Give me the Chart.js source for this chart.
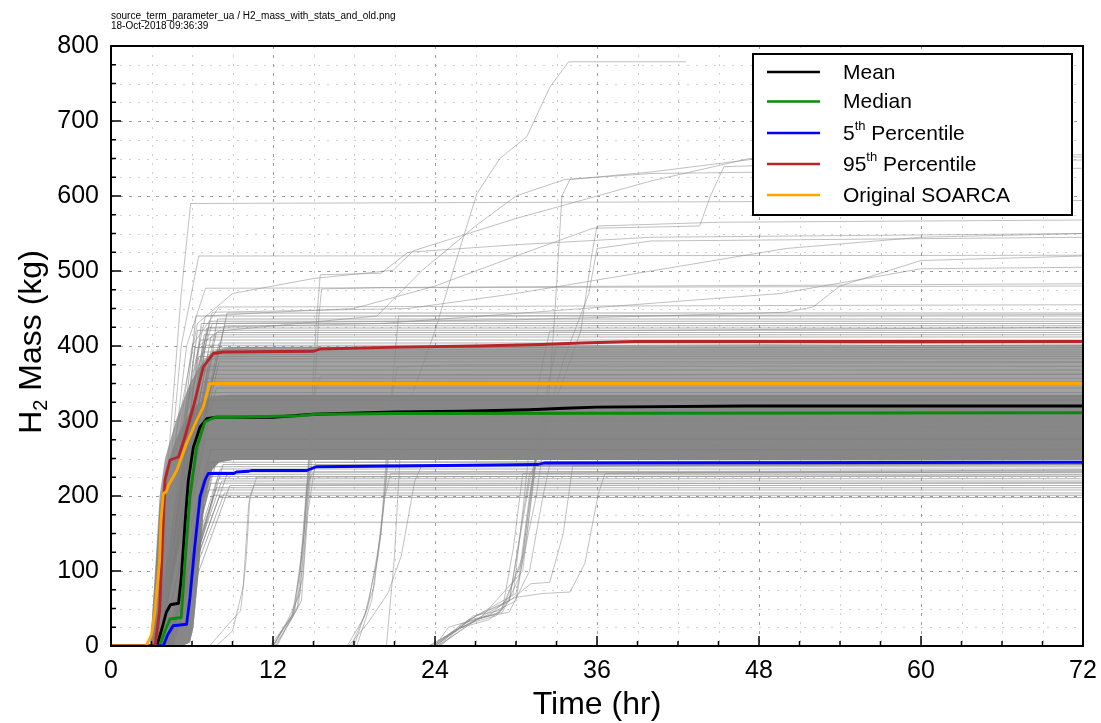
<!DOCTYPE html>
<html>
<head>
<meta charset="utf-8">
<script src="https://cdn.jsdelivr.net/npm/chart.js@4.4.0/dist/chart.umd.min.js"></script>
<style>
  html, body { margin: 0; background: #fff; }
  #wrap { width: 1101px; height: 723px; }
</style>
</head>
<body>
<div id="wrap"><canvas id="h2Chart" width="1101" height="723"></canvas></div>
<script>
// ---- data (time in hr, mass in kg) ----
const xTicks = [0, 12, 24, 36, 48, 60, 72];
const yTicks = [0, 100, 200, 300, 400, 500, 600, 700, 800];

const meanCurve = [[0,0],[3.4,0],[3.8,25],[4.1,45],[4.4,55],[5.0,57],[5.2,90],[5.36,132],[5.55,180],[5.73,221],[6.1,265],[6.6,292],[7.1,303],[7.8,305],[12,305],[15,309],[21,312],[26,313],[31,315],[33.6,317],[36,318.5],[47,320],[72,320]];
const medianCurve = [[0,0],[3.6,0],[4.0,20],[4.37,36],[5.2,38],[5.48,110],[5.85,199],[6.35,265],[6.96,299],[7.7,305],[9,305],[14,307],[15.2,309],[21,310],[72,311]];
const p5Curve = [[0,0],[3.87,0],[4.2,15],[4.6,27],[5.6,29],[5.85,65],[6.2,132],[6.6,199],[6.96,221],[7.2,230],[9.1,230],[9.3,232],[10.2,233],[10.4,234],[14.5,234],[15.2,239],[21.2,240],[31.6,242],[32.1,244],[72,245]];
const p95Curve = [[0,0],[3.26,0],[3.6,47],[3.8,132],[4.0,221],[4.37,248],[5.0,252],[5.48,279],[6.1,319],[6.84,372],[7.58,390],[8.3,392],[15,393],[15.5,396],[21.3,398.5],[27.1,400],[31.9,402],[34.8,404],[38.8,406],[72,406]];
const soarcaCurve = [[0,0],[2.6,0],[3.0,15],[3.26,47],[3.6,114],[3.7,165],[3.87,203],[4.1,206],[4.25,214],[4.87,234],[5.6,270],[6.35,301],[6.84,319],[7.1,336],[7.33,350],[72,350]];

// dense bundle of realizations (envelopes of the solid grey mass)
const bandT     = [0, 2.9, 3.26, 3.6, 4.0, 4.8, 5.3, 5.85, 6.1, 6.5, 6.9, 7.5, 8, 9, 72];
const bandLow   = [0, 0, 0, 0, 0, 0, 0, 5, 25, 100, 190, 235, 245, 248, 248];
const innerHigh = [0, 0, 90, 185, 232, 275, 295, 312, 318, 324, 328, 332, 334, 335, 335];
const outerHigh = [0, 0, 100, 200, 250, 300, 325, 350, 358, 370, 381, 392, 396, 399, 402];

// single realizations that form the visible stripes around the bundle
const coreLevel = [165,198,201,204,208,211,214,217,220,223,226,229,232,236,239,242,245,
  262,276,328,333,338,344,352,357,362,368,373,379,383,
  386,389,392,395,398,401,404,408,412,415,418,421,424,427,430,433,436,440,444];
const coreStart = [4.2,4.0,4.3,4.1,4.4,3.9,4.5,4.2,4.0,4.6,4.3,4.1,4.4,3.9,4.2,4.5,4.0,
  3.6,3.8,3.4,3.5,3.7,3.3,3.6,3.4,3.5,3.2,3.6,3.3,3.4,
  3.3,3.1,3.4,3.2,3.5,3.0,3.3,3.6,3.2,3.4,3.1,3.5,3.3,3.2,3.6,3.4,3.0,3.5,3.3];
const coreEnd = [7.0,8.0,7.6,8.4,7.2,7.8,8.8,7.4,8.2,7.9,7.1,8.6,7.5,8.1,7.7,8.3,7.3,
  7.4,7.0,6.9,7.3,6.6,7.8,6.8,7.1,7.6,6.7,7.2,8.0,6.9,
  6.5,7.2,6.8,7.6,6.2,7.0,8.0,6.6,7.4,6.9,7.8,6.4,7.1,8.4,6.7,7.3,7.9,6.3,8.6];

// late or high realizations drawn one by one
const spreadRuns = [
  [[0,0],[20.4,0],[21,120],[21.4,250],[22.2,330],[24,420],[25.5,510],[27.1,603],[28.8,650],[30.8,679],[32.5,745],[33.9,779],[42.6,779]],
  [[0,0],[3.0,0],[3.8,150],[4.6,330],[5.2,470],[5.9,590],[72,594]],
  [[0,0],[3.2,0],[4.2,200],[5.2,400],[6.5,520],[72,521]],
  [[0,0],[3.4,0],[4.5,230],[5.6,400],[7.0,477],[72,480]],
  [[0,0],[3.5,0],[4.8,250],[6.0,400],[8.0,452],[72,455]],
  [[0,0],[3.3,0],[4.8,280],[6.4,430],[9,470],[15,490],[20.9,501],[22.4,527],[30,570],[40,620],[47.3,650],[72,655]],
  [[0,0],[3.5,0],[5,250],[6.5,400],[8,420],[15,432],[19.7,440],[23,500],[27,560],[30,600],[33.6,622],[40,630],[72,637]],
  [[0,0],[3.6,0],[5.3,300],[7,440],[12,445],[18,450],[24,480],[30,520],[35.7,557],[43.6,560],[44.4,600],[45.4,639],[55,645],[72,648]],
  [[0,0],[3.8,0],[5.5,300],[7.5,445],[22,450],[30,470],[40,500],[50,530],[60,545],[72,550]],
  [[0,0],[3.7,0],[5.6,320],[7.5,430],[30,435],[50,445],[52,452],[54,480],[60,514],[72,520]],
  [[0,0],[3.6,0],[5.4,300],[7.2,425],[20,430],[35,450],[49.6,470],[60,503],[72,505]],
  [[0,0],[11.8,0],[12.6,20],[13.5,40],[14.3,150],[14.8,300],[15.2,430],[15.5,495],[20,497],[22,525],[30,535],[40,545],[72,550]],
  [[0,0],[12,0],[12.8,25],[13.6,45],[14.2,130],[14.7,230],[15.2,245],[72,248]],
  [[0,0],[12,0],[13,30],[13.9,55],[14.4,150],[14.9,250],[15.3,265],[72,268]],
  [[0,0],[12.1,0],[12.9,22],[13.8,50],[14.3,160],[14.8,280],[15.4,300],[72,302]],
  [[0,0],[12,0],[13.1,35],[14,70],[14.5,200],[15,330],[15.5,360],[72,363]],
  [[0,0],[12.2,0],[13.2,30],[14.1,60],[14.6,180],[15.1,240],[72,241]],
  [[0,0],[12,0],[12.7,20],[13.4,40],[14,100],[14.5,215],[15,232],[72,234]],
  [[0,0],[12.3,0],[13.4,40],[14.2,90],[14.8,260],[15.4,440],[15.6,476],[20,478],[72,483]],
  [[0,0],[7.3,0],[8.5,25],[9.6,47],[10,114],[10.3,200],[10.8,225],[72,228]],
  [[0,0],[7.8,0],[9.0,20],[9.8,80],[10.2,190],[10.6,215],[72,218]],
  [[0,0],[17.5,0],[18.8,40],[19.8,120],[20.3,200],[20.7,230],[72,232]],
  [[0,0],[17.8,0],[19,50],[20,150],[20.5,280],[21,380],[21.3,440],[72,442]],
  [[0,0],[18.2,0],[19.3,60],[20.1,170],[20.6,260],[21,290],[72,292]],
  [[0,0],[18,0],[19.5,80],[20.3,210],[20.8,330],[21.2,372],[25,375],[72,378]],
  [[0,0],[17.6,0],[19,30],[20.5,70],[21.5,120],[22.5,220],[23,240],[72,243]],
  [[0,0],[23.6,0],[25,15],[26.5,30],[28.5,40],[29.5,60],[30.3,150],[31,230],[31.5,240],[72,242]],
  [[0,0],[23.8,0],[25.5,20],[27,35],[29,45],[30.2,90],[31,200],[31.6,260],[72,262]],
  [[0,0],[24,0],[25.2,18],[27.5,38],[30,60],[30.8,150],[31.5,250],[32,300],[72,302]],
  [[0,0],[24.1,0],[26,30],[28,40],[29.8,70],[30.5,180],[31.2,300],[32,380],[32.5,420],[72,425]],
  [[0,0],[23.5,0],[24.5,10],[26,25],[28,35],[29,50],[29.8,130],[30.5,230],[72,235]],
  [[0,0],[24.2,0],[26.5,35],[29.5,45],[31,100],[32,200],[32.6,250],[72,252]],
  [[0,0],[24.4,0],[26.8,40],[29,48],[30.5,120],[31.4,250],[32.4,350],[33,400],[72,405]],
  [[0,0],[24,0],[25,25],[28.8,45],[30.4,110],[31.3,230],[31.9,320],[72,322]],
  [[0,0],[24,0],[27,40],[30,65],[32,70],[34,72],[35.1,110],[36.1,203],[36.6,230],[72,232]],
  [[0,0],[24.3,0],[27,35],[29.5,60],[31.1,83],[32.5,85],[33.5,150],[34.2,240],[72,245]],
  [[0,0],[24,0],[27,40],[30,70],[31.5,200],[32.3,300],[32.9,450],[33.4,600],[34,622],[40,632],[48,650],[72,652]],
  [[0,0],[24.2,0],[27.5,40],[30.5,100],[31.5,250],[33,330],[34.8,420],[35.6,520],[36,560],[45,565],[72,568]],
  [[0,0],[23.8,0],[26.5,35],[29.5,60],[31,220],[33.5,380],[35.4,470],[36,530],[40,540],[72,545]]
];

const legendItems = [
  { base: "Mean", sup: "", rest: "", color: "#000000" },
  { base: "Median", sup: "", rest: "", color: "#0a8a0a" },
  { base: "5", sup: "th", rest: " Percentile", color: "#0000ff" },
  { base: "95", sup: "th", rest: " Percentile", color: "#b82428" },
  { base: "Original SOARCA", sup: "", rest: "", color: "#ffa500" }
];

const FONT = '"Liberation Sans", Arial, Helvetica, sans-serif';
const toXY = pts => pts.map(p => ({ x: p[0], y: p[1] }));

// ---- datasets (index 0 is drawn on top) ----
const statLine = (label, pts, color) => ({
  label, data: toXY(pts), borderColor: color, borderWidth: 2.8, pointRadius: 0, fill: false
});

const datasets = [
  statLine("Original SOARCA", soarcaCurve, "#ffa500"),
  statLine("95th Percentile", p95Curve, "#b82428"),
  statLine("5th Percentile", p5Curve, "#0000ff"),
  statLine("Median", medianCurve, "#0a8a0a"),
  statLine("Mean", meanCurve, "#000000")
];

spreadRuns.forEach(run => {
  datasets.push({ data: toXY(run), borderColor: "rgba(135,135,135,0.75)", borderWidth: 0.7, pointRadius: 0, fill: false });
});

coreLevel.forEach((lvl, i) => {
  const pts = [[0, 0], [coreStart[i], 0], [coreEnd[i], lvl], [72, lvl]];
  datasets.push({ data: toXY(pts), borderColor: "rgba(125,125,125,0.6)", borderWidth: 1, pointRadius: 0, fill: false });
});

const n = datasets.length;
// inner band: n (high) -> n+1 (low); outer band: n+2 (high) -> n+3 (low)
datasets.push({ data: toXY(bandT.map((t, i) => [t, innerHigh[i]])), borderWidth: 0, pointRadius: 0, fill: { target: n + 1 }, backgroundColor: "#878787" });
datasets.push({ data: toXY(bandT.map((t, i) => [t, bandLow[i]])), borderWidth: 0, pointRadius: 0, fill: false });
datasets.push({ data: toXY(bandT.map((t, i) => [t, outerHigh[i]])), borderWidth: 0, pointRadius: 0, fill: { target: n + 3 }, backgroundColor: "#a3a3a3" });
datasets.push({ data: toXY(bandT.map((t, i) => [t, bandLow[i]])), borderWidth: 0, pointRadius: 0, fill: false });

// ---- drawing helpers ----
const gridPlugin = {
  id: "dottedGrid",
  beforeDatasetsDraw(chart) {
    const { ctx, chartArea: a, scales: { x, y } } = chart;
    ctx.save();
    ctx.lineWidth = 1;
    for (let v = 0; v <= 800; v += 25) {
      const py = Math.round(y.getPixelForValue(v)) + 0.5;
      const major = v % 100 === 0;
      ctx.strokeStyle = major ? "#9c9c9c" : "#cfcfcf";
      ctx.setLineDash(major ? [3, 6] : [2, 7]);
      ctx.beginPath(); ctx.moveTo(a.left, py); ctx.lineTo(a.right, py); ctx.stroke();
    }
    for (let t = 0; t <= 72; t += 3) {
      const px = Math.round(x.getPixelForValue(t)) + 0.5;
      const major = t % 12 === 0;
      ctx.strokeStyle = major ? "#9c9c9c" : "#cfcfcf";
      ctx.setLineDash(major ? [3, 6] : [2, 7]);
      ctx.beginPath(); ctx.moveTo(px, a.top); ctx.lineTo(px, a.bottom); ctx.stroke();
    }
    ctx.restore();
  }
};

function drawRich(ctx, parts, x, y) {
  // parts: [text, size, dy]
  let cx = x;
  parts.forEach(([txt, size, dy]) => {
    if (!txt) return;
    ctx.font = size + "px " + FONT;
    ctx.fillText(txt, cx, y + dy);
    cx += ctx.measureText(txt).width;
  });
  return cx - x;
}

const framePlugin = {
  id: "frame",
  afterDatasetsDraw(chart) {
    const { ctx, chartArea: a, scales: { x, y } } = chart;
    ctx.save();
    ctx.setLineDash([]);
    ctx.strokeStyle = "#000";
    // inward ticks on left and bottom
    ctx.lineWidth = 1.5;
    for (let v = 0; v <= 800; v += 25) {
      const py = y.getPixelForValue(v);
      const len = v % 100 === 0 ? 10 : 5;
      ctx.beginPath(); ctx.moveTo(a.left, py); ctx.lineTo(a.left + len, py); ctx.stroke();
    }
    for (let t = 0; t <= 72; t += 3) {
      const px = x.getPixelForValue(t);
      const len = t % 12 === 0 ? 10 : 5;
      ctx.beginPath(); ctx.moveTo(px, a.bottom); ctx.lineTo(px, a.bottom - len); ctx.stroke();
    }
    // box
    ctx.lineWidth = 2;
    ctx.strokeRect(a.left, a.top, a.right - a.left, a.bottom - a.top);

    // legend
    const lx = 753, ly = 54, lw = 319, lh = 161;
    ctx.fillStyle = "#fff";
    ctx.fillRect(lx, ly, lw, lh);
    ctx.lineWidth = 2;
    ctx.strokeStyle = "#000";
    ctx.strokeRect(lx, ly, lw, lh);
    const rows = [72, 101.5, 133, 164, 195];
    ctx.textBaseline = "middle";
    legendItems.forEach((it, i) => {
      const ry = rows[i];
      ctx.strokeStyle = it.color;
      ctx.lineWidth = 2.6;
      ctx.beginPath(); ctx.moveTo(767, ry); ctx.lineTo(820, ry); ctx.stroke();
      ctx.fillStyle = "#000";
      drawRich(ctx, [[it.base, 21, 0], [it.sup, 13, -8], [it.rest, 21, 0]], 843, ry + 1);
    });

    // axis titles
    ctx.textBaseline = "alphabetic";
    ctx.fillStyle = "#000";
    ctx.font = "32px " + FONT;
    ctx.textAlign = "center";
    ctx.fillText("Time (hr)", (a.left + a.right) / 2, 714);
    ctx.textAlign = "left";
    ctx.save();
    ctx.translate(41, (a.top + a.bottom) / 2 - 4);
    ctx.rotate(-Math.PI / 2);
    const parts = [["H", 32, 0], ["2", 20, 6], [" Mass (kg)", 32, 0]];
    let w = 0;
    parts.forEach(([t, s]) => { ctx.font = s + "px " + FONT; w += ctx.measureText(t).width; });
    drawRich(ctx, parts, -w / 2, 0);
    ctx.restore();

    // header
    ctx.font = "10px " + FONT;
    ctx.fillText("source_term_parameter_ua / H2_mass_with_stats_and_old.png", 111, 19);
    ctx.fillText("18-Oct-2018 09:36:39", 111, 29);
    ctx.restore();
  }
};

new Chart(document.getElementById("h2Chart"), {
  type: "line",
  data: { datasets },
  options: {
    responsive: false,
    animation: false,
    parsing: true,
    layout: { padding: { top: 46, right: 18, left: 0, bottom: 0 } },
    elements: { line: { tension: 0, borderJoinStyle: "round" } },
    plugins: { legend: { display: false }, tooltip: { enabled: false }, filler: { propagate: false } },
    scales: {
      x: {
        type: "linear", min: 0, max: 72,
        afterFit: s => { s.height = 77; s.paddingLeft = 0; s.paddingRight = 0; },
        afterBuildTicks: s => { s.ticks = xTicks.map(v => ({ value: v })); },
        ticks: { autoSkip: false, maxRotation: 0, padding: 10, color: "#000", font: { size: 25, family: FONT } },
        grid: { display: false, drawTicks: false },
        border: { display: false }
      },
      y: {
        type: "linear", min: 0, max: 800,
        afterFit: s => { s.width = 111; s.paddingTop = 0; s.paddingBottom = 0; },
        afterBuildTicks: s => { s.ticks = yTicks.map(v => ({ value: v })); },
        ticks: { autoSkip: false, padding: 12, color: "#000", font: { size: 25, family: FONT } },
        grid: { display: false, drawTicks: false },
        border: { display: false }
      }
    }
  },
  plugins: [gridPlugin, framePlugin]
});
</script>
</body>
</html>
